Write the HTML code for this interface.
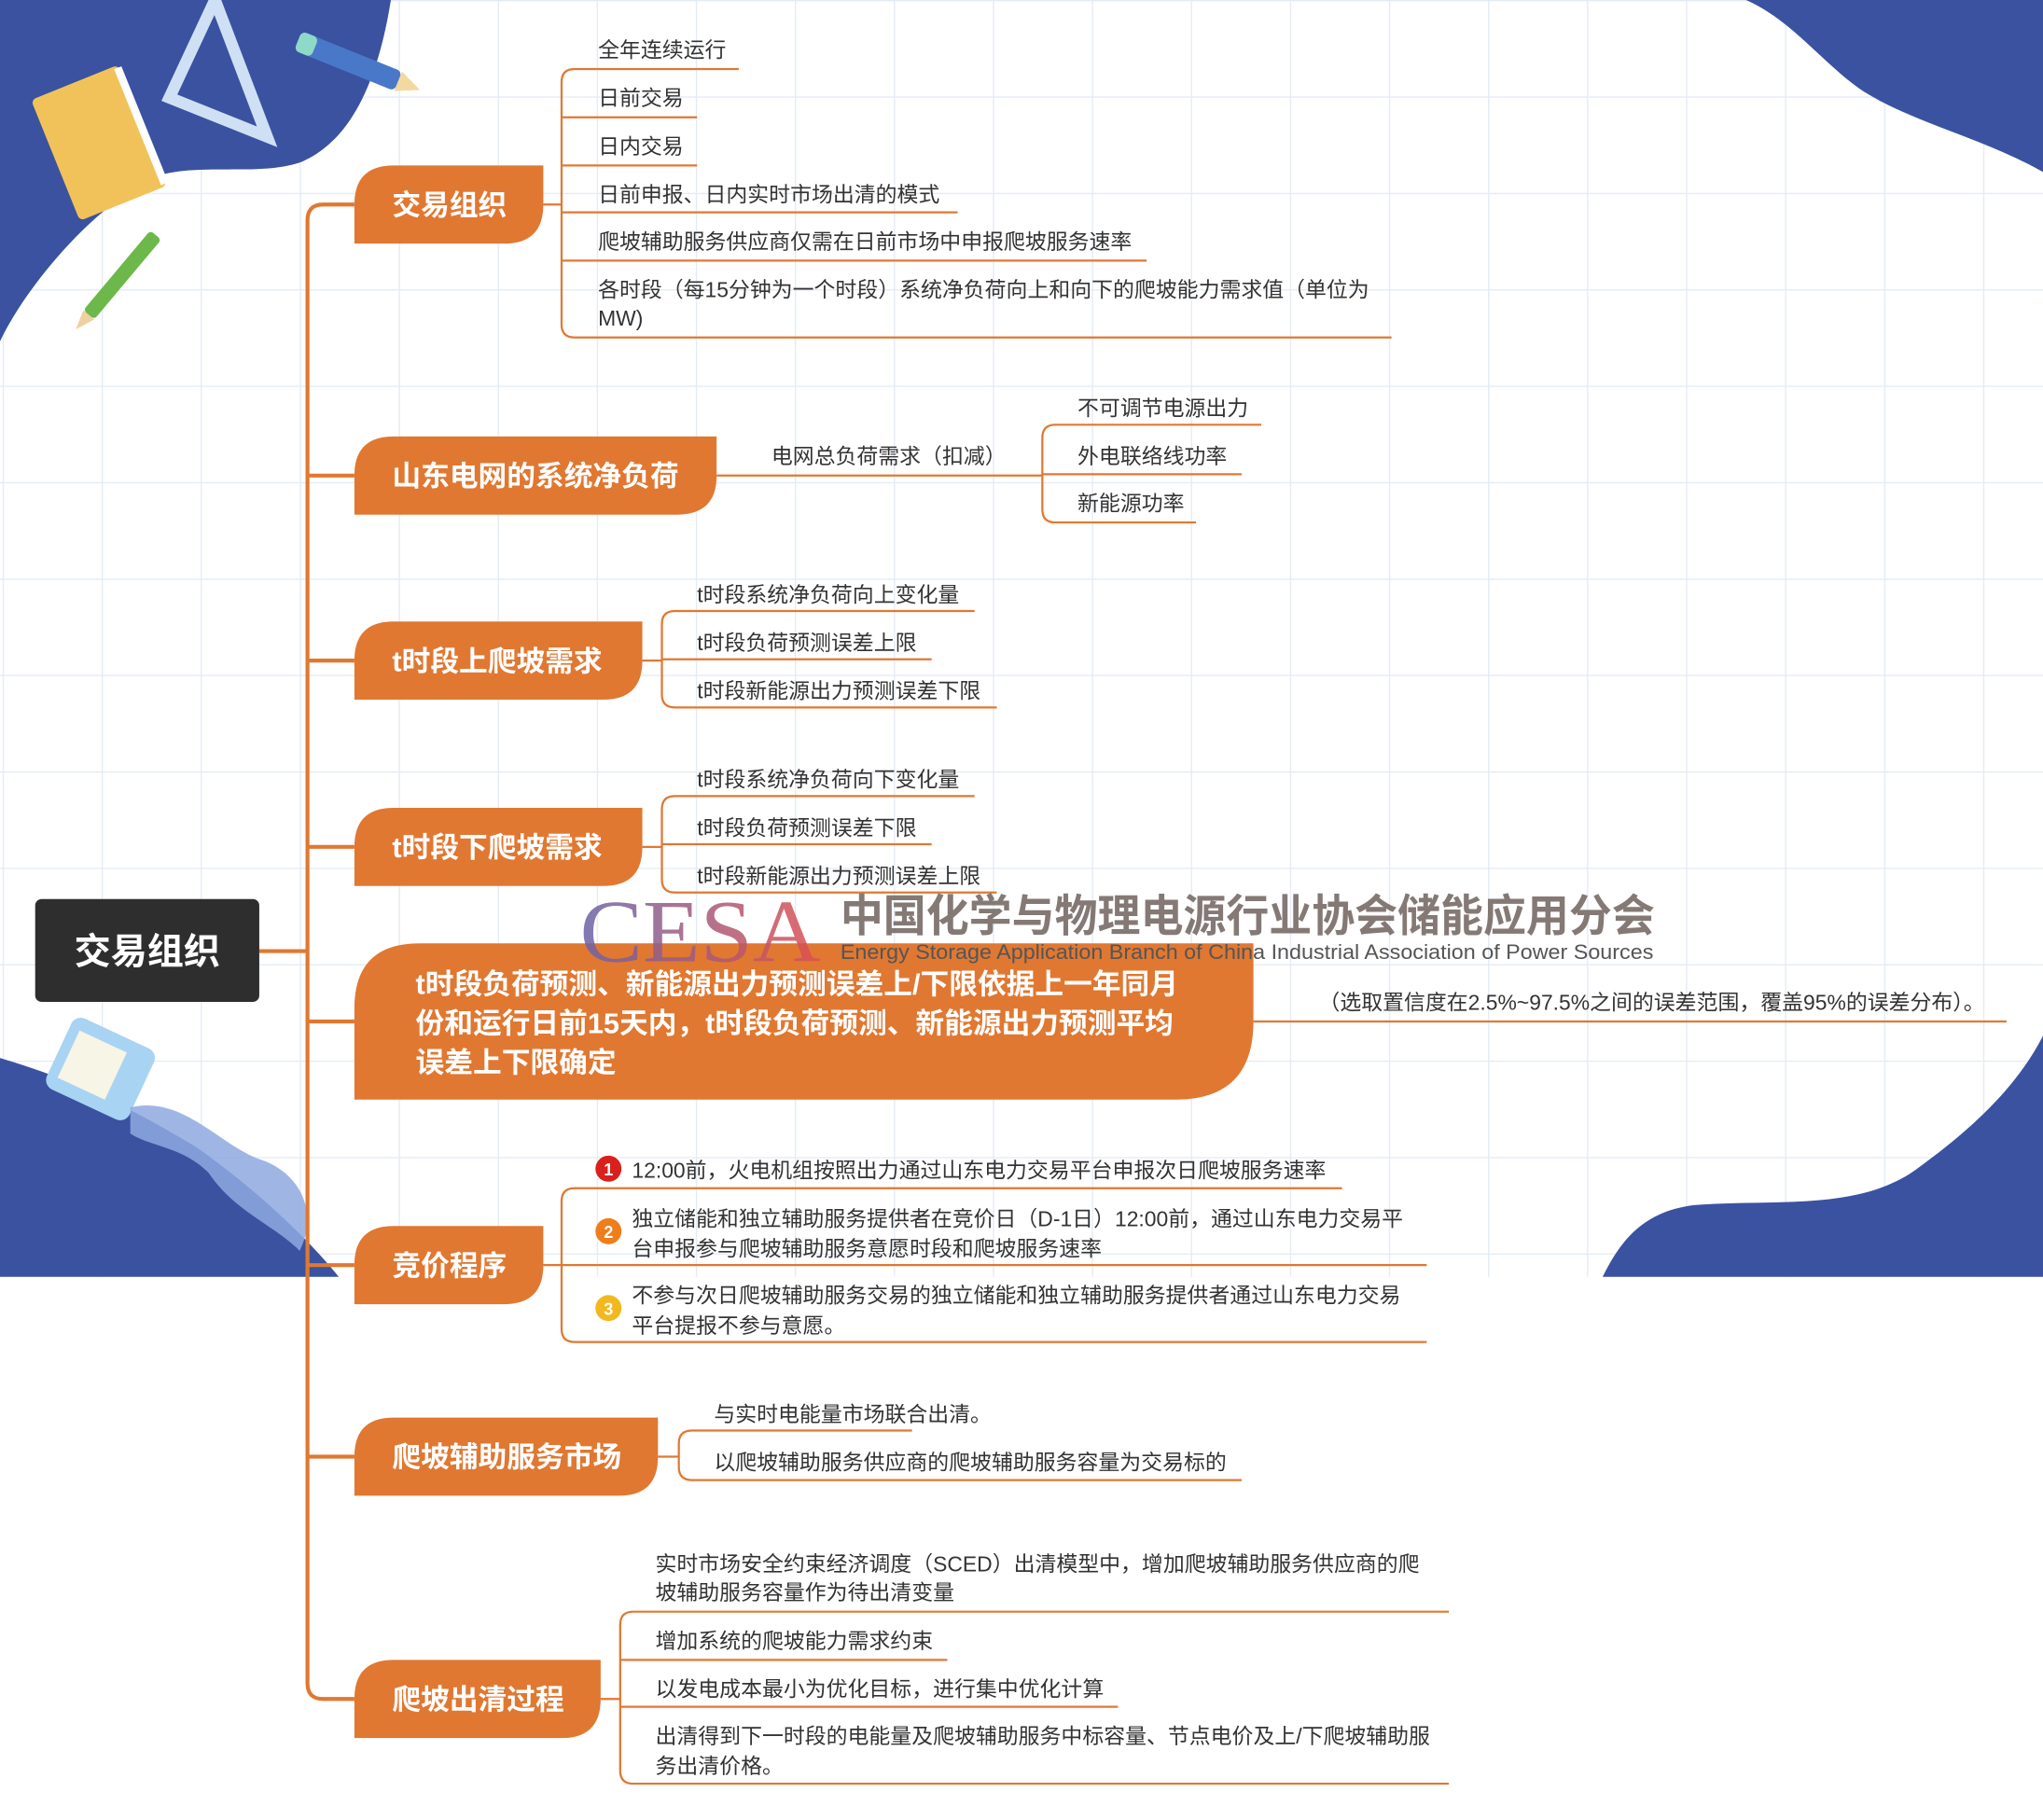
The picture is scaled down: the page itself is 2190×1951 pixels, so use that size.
<!DOCTYPE html>
<html><head><meta charset="utf-8"><style>
html,body{margin:0;padding:0;background:#fff;}
#wrap{width:2190px;height:1951px;overflow:hidden;position:relative;}
#s{position:absolute;left:0;top:0;transform:scale(1.39668);transform-origin:0 0;}
text{font-family:"Liberation Sans","Noto Sans CJK SC",sans-serif;}
</style></head><body><div id="wrap">
<svg id="s" width="1568" height="1397" viewBox="0 0 1568 1397" xmlns="http://www.w3.org/2000/svg">
<defs>
<pattern id="g" x="2" y="0" width="76" height="74" patternUnits="userSpaceOnUse">
<path d="M0,0 H76 M0,0 V74" stroke="#e4ebf6" stroke-width="2" fill="none"/>
</pattern>
<linearGradient id="cg" x1="0" x2="1" y1="0" y2="0"><stop offset="0" stop-color="#6a64a8"/><stop offset="1" stop-color="#e05050"/></linearGradient>
</defs>
<rect width="1568" height="980" fill="url(#g)"/>
<path d="M0,0 H300 C292,50 275,105 232,124 C200,136 150,124 118,136 C70,160 20,220 0,262 Z" fill="#3a52a0"/>
<path d="M1340,0 C1375,15 1400,50 1430,70 C1470,95 1520,105 1568,132 V0 Z" fill="#3a52a0"/>
<path d="M0,812 C60,830 100,850 150,880 C200,915 240,955 260,980 H0 Z" fill="#3a52a0"/>
<path d="M1230,980 C1245,950 1262,930 1300,925 C1360,920 1425,930 1470,898 C1520,862 1550,830 1568,795 V980 Z" fill="#3a52a0"/>
<g transform="rotate(-22 75 110)"><rect x="40" y="60" width="72" height="100" rx="4" fill="#f2c25a"/><rect x="108" y="62" width="6" height="96" fill="#fff"/></g>
<path d="M165,0 L205,105 L130,75 Z" fill="none" stroke="#cfe0f5" stroke-width="9"/>
<g transform="rotate(22 275 50)"><rect x="228" y="42" width="80" height="16" rx="4" fill="#4a78c8"/><rect x="225" y="42" width="14" height="16" rx="4" fill="#8fd9c8"/><path d="M308,42 L326,50 L308,58 Z" fill="#f3d8a0"/></g>
<g transform="rotate(-50 95 212)"><rect x="55" y="205" width="80" height="11" rx="3" fill="#6cb84a"/><path d="M55,205 L40,210 L55,216 Z" fill="#f0d0a0"/></g>
<g transform="rotate(25 75 825)"><rect x="40" y="790" width="70" height="60" rx="8" fill="#a9d3f2"/><rect x="48" y="800" width="40" height="40" fill="#f6f5e6"/></g>
<path d="M100,850 C140,840 170,880 200,890 C230,900 245,930 230,960 C210,940 180,930 160,900 C140,880 115,880 100,870 Z" fill="#8ea9e0" opacity="0.85"/>
<rect x="27" y="690" width="172" height="79" rx="5" fill="#2e2e2e"/>
<text x="113" y="740" font-size="28" font-weight="bold" fill="#fff" text-anchor="middle">交易组织</text>
<g stroke="#e07832" stroke-width="3" fill="none">
<path d="M199,730 H236"/>
<path d="M272,157 H248 Q236,157 236,169 V1292 Q236,1304 248,1304 H272"/>
<path d="M236,365 H272 M236,507 H272 M236,650 H272 M236,784 H272 M236,971 H272 M236,1118 H272"/>
</g>
<g fill="#e07832">
<path d="M272,157 Q272,127 302,127 H417 V157 Q417,187 387,187 H272 Z"/>
<path d="M272,365 Q272,335 302,335 H550 V365 Q550,395 520,395 H272 Z"/>
<path d="M272,507 Q272,477 302,477 H493 V507 Q493,537 463,537 H272 Z"/>
<path d="M272,650 Q272,620 302,620 H493 V650 Q493,680 463,680 H272 Z"/>
<path d="M272,774 Q272,724 322,724 H962 V784 Q962,844 902,844 H272 Z"/>
<path d="M272,971 Q272,941 302,941 H417 V971 Q417,1001 387,1001 H272 Z"/>
<path d="M272,1118 Q272,1088 302,1088 H505 V1118 Q505,1148 475,1148 H272 Z"/>
<path d="M272,1304 Q272,1274 302,1274 H461 V1304 Q461,1334 431,1334 H272 Z"/>
</g>
<g font-size="22" font-weight="bold" fill="#fff">
<text x="301" y="165">交易组织</text>
<text x="301" y="373">山东电网的系统净负荷</text>
<text x="301" y="515">t时段上爬坡需求</text>
<text x="301" y="658">t时段下爬坡需求</text>
<text x="319" y="763">t时段负荷预测、新能源出力预测误差上/下限依据上一年同月</text>
<text x="319" y="793">份和运行日前15天内，t时段负荷预测、新能源出力预测平均</text>
<text x="319" y="823">误差上下限确定</text>
<text x="301" y="979">竞价程序</text>
<text x="301" y="1126">爬坡辅助服务市场</text>
<text x="301" y="1312">爬坡出清过程</text>
</g>
<g stroke="#e07832" stroke-width="1.6" fill="none">
<path d="M417,157 H431"/>
<path d="M567,53 H441 Q431,53 431,63 V249 Q431,259 441,259 H1068"/>
<path d="M431,90 H535 M431,127 H535 M431,163 H735 M431,200 H880"/>
<path d="M550,365 H800"/>
<path d="M968,326 H810 Q800,326 800,336 V391 Q800,401 810,401 H918 M800,364 H953"/>
<path d="M493,507 H508"/>
<path d="M748,469 H518 Q508,469 508,479 V533 Q508,543 518,543 H765 M508,506 H715"/>
<path d="M493,650 H508"/>
<path d="M748,611 H518 Q508,611 508,621 V675 Q508,685 518,685 H765 M508,648 H715"/>
<path d="M962,784 H1540"/>
<path d="M417,971 H431"/>
<path d="M1030,912 H441 Q431,912 431,922 V1020 Q431,1030 441,1030 H1095 M431,971 H1095"/>
<path d="M505,1118 H521"/>
<path d="M700,1098 H531 Q521,1098 521,1108 V1126 Q521,1136 531,1136 H953"/>
<path d="M461,1304 H476"/>
<path d="M1112,1237 H486 Q476,1237 476,1247 V1359 Q476,1369 486,1369 H1112 M476,1274 H727 M476,1310 H858"/>
</g>
<g font-size="16.4" fill="#333">
<text x="459" y="44">全年连续运行</text>
<text x="459" y="81">日前交易</text>
<text x="459" y="118">日内交易</text>
<text x="459" y="155">日前申报、日内实时市场出清的模式</text>
<text x="459" y="191">爬坡辅助服务供应商仅需在日前市场中申报爬坡服务速率</text>
<text x="459" y="228">各时段（每15分钟为一个时段）系统净负荷向上和向下的爬坡能力需求值（单位为</text>
<text x="459" y="250">MW)</text>
<text x="592" y="356">电网总负荷需求（扣减）</text>
<text x="827" y="319">不可调节电源出力</text>
<text x="827" y="356">外电联络线功率</text>
<text x="827" y="392">新能源功率</text>
<text x="535" y="462">t时段系统净负荷向上变化量</text>
<text x="535" y="499">t时段负荷预测误差上限</text>
<text x="535" y="536">t时段新能源出力预测误差下限</text>
<text x="535" y="604">t时段系统净负荷向下变化量</text>
<text x="535" y="641">t时段负荷预测误差下限</text>
<text x="535" y="678">t时段新能源出力预测误差上限</text>
<text x="1012" y="775">（选取置信度在2.5%~97.5%之间的误差范围，覆盖95%的误差分布）。</text>
<text x="485" y="904">12:00前，火电机组按照出力通过山东电力交易平台申报次日爬坡服务速率</text>
<text x="485" y="941">独立储能和独立辅助服务提供者在竞价日（D-1日）12:00前，通过山东电力交易平</text>
<text x="485" y="964">台申报参与爬坡辅助服务意愿时段和爬坡服务速率</text>
<text x="485" y="1000">不参与次日爬坡辅助服务交易的独立储能和独立辅助服务提供者通过山东电力交易</text>
<text x="485" y="1023">平台提报不参与意愿。</text>
<text x="548" y="1091">与实时电能量市场联合出清。</text>
<text x="548" y="1128">以爬坡辅助服务供应商的爬坡辅助服务容量为交易标的</text>
<text x="503" y="1206">实时市场安全约束经济调度（SCED）出清模型中，增加爬坡辅助服务供应商的爬</text>
<text x="503" y="1228">坡辅助服务容量作为待出清变量</text>
<text x="503" y="1265">增加系统的爬坡能力需求约束</text>
<text x="503" y="1302">以发电成本最小为优化目标，进行集中优化计算</text>
<text x="503" y="1338">出清得到下一时段的电能量及爬坡辅助服务中标容量、节点电价及上/下爬坡辅助服</text>
<text x="503" y="1361">务出清价格。</text>
</g>
<circle cx="467" cy="897" r="10" fill="#d9201c"/><text x="467" y="902" font-size="13" fill="#fff" text-anchor="middle" font-weight="bold">1</text>
<circle cx="467" cy="945" r="10" fill="#ef7d1a"/><text x="467" y="950" font-size="13" fill="#fff" text-anchor="middle" font-weight="bold">2</text>
<circle cx="467" cy="1004" r="10" fill="#f2b81e"/><text x="467" y="1009" font-size="13" fill="#fff" text-anchor="middle" font-weight="bold">3</text>
<text x="445" y="738" font-size="68" fill="url(#cg)" opacity="0.85" textLength="185" lengthAdjust="spacingAndGlyphs" style="font-family:'Liberation Serif',serif">CESA</text>
<text x="645" y="715" font-size="34" font-weight="bold" fill="#7a6e6a" opacity="0.92" textLength="625" lengthAdjust="spacingAndGlyphs">中国化学与物理电源行业协会储能应用分会</text>
<text x="645" y="736" font-size="16" fill="#555" textLength="624" lengthAdjust="spacingAndGlyphs">Energy Storage Application Branch of China Industrial Association of Power Sources</text>
</svg></div></body></html>
